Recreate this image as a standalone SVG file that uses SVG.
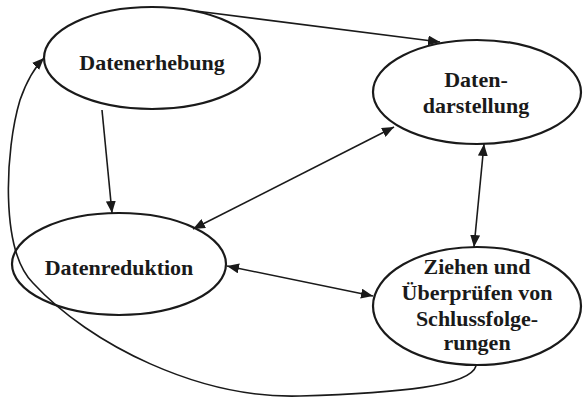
<svg xmlns="http://www.w3.org/2000/svg" width="584" height="401" viewBox="0 0 584 401">
<style>
.node ellipse{fill:#fff;stroke:#1a1a1a;stroke-width:2.2}
.node text{font-family:"Liberation Serif","Times New Roman",serif;font-weight:bold;font-size:22px;fill:#1a1a1a;text-anchor:middle}
.conn path{fill:none;stroke:#1a1a1a;stroke-width:1.6}
</style>
<defs>
<marker id="ah" viewBox="0 0 12 10" refX="12" refY="5" markerWidth="12" markerHeight="10" markerUnits="userSpaceOnUse" orient="auto-start-reverse">
<path d="M0,0 L12,5 L0,10 z" fill="#1a1a1a"/>
</marker>
</defs>
<rect width="584" height="401" fill="#fff"/>
<g id="connectors" class="conn">
<path d="M196,11 L440,42" marker-end="url(#ah)"/>
<path d="M102,110 L112,213" marker-end="url(#ah)"/>
<path d="M193,229 L394,127" marker-start="url(#ah)" marker-end="url(#ah)"/>
<path d="M227,266 L373,296" marker-start="url(#ah)" marker-end="url(#ah)"/>
<path d="M484,144 L474,247" marker-start="url(#ah)" marker-end="url(#ah)"/>
<path d="M476,366 C470,386 400,393 300,396 C200,399 90,345 33,283 C0,250 5,150 20,100 C27,80 34,68 44,58" marker-end="url(#ah)"/>
</g>
<g id="datenerhebung" class="node">
<ellipse cx="152" cy="58" rx="108" ry="51"/>
<text x="152" y="70">Datenerhebung</text>
</g>
<g id="datendarstellung" class="node">
<ellipse cx="477" cy="92" rx="104" ry="52"/>
<text x="476" y="87">Daten-</text>
<text x="476" y="113">darstellung</text>
</g>
<g id="datenreduktion" class="node">
<ellipse cx="119" cy="264" rx="107" ry="51" style="fill:none"/>
<text x="119" y="275">Datenreduktion</text>
</g>
<g id="ziehen" class="node">
<ellipse cx="477" cy="306" rx="104" ry="59"/>
<text x="477" y="274">Ziehen und</text>
<text x="477" y="300">Überprüfen von</text>
<text x="477" y="326">Schlussfolge-</text>
<text x="477" y="350">rungen</text>
</g>
</svg>
